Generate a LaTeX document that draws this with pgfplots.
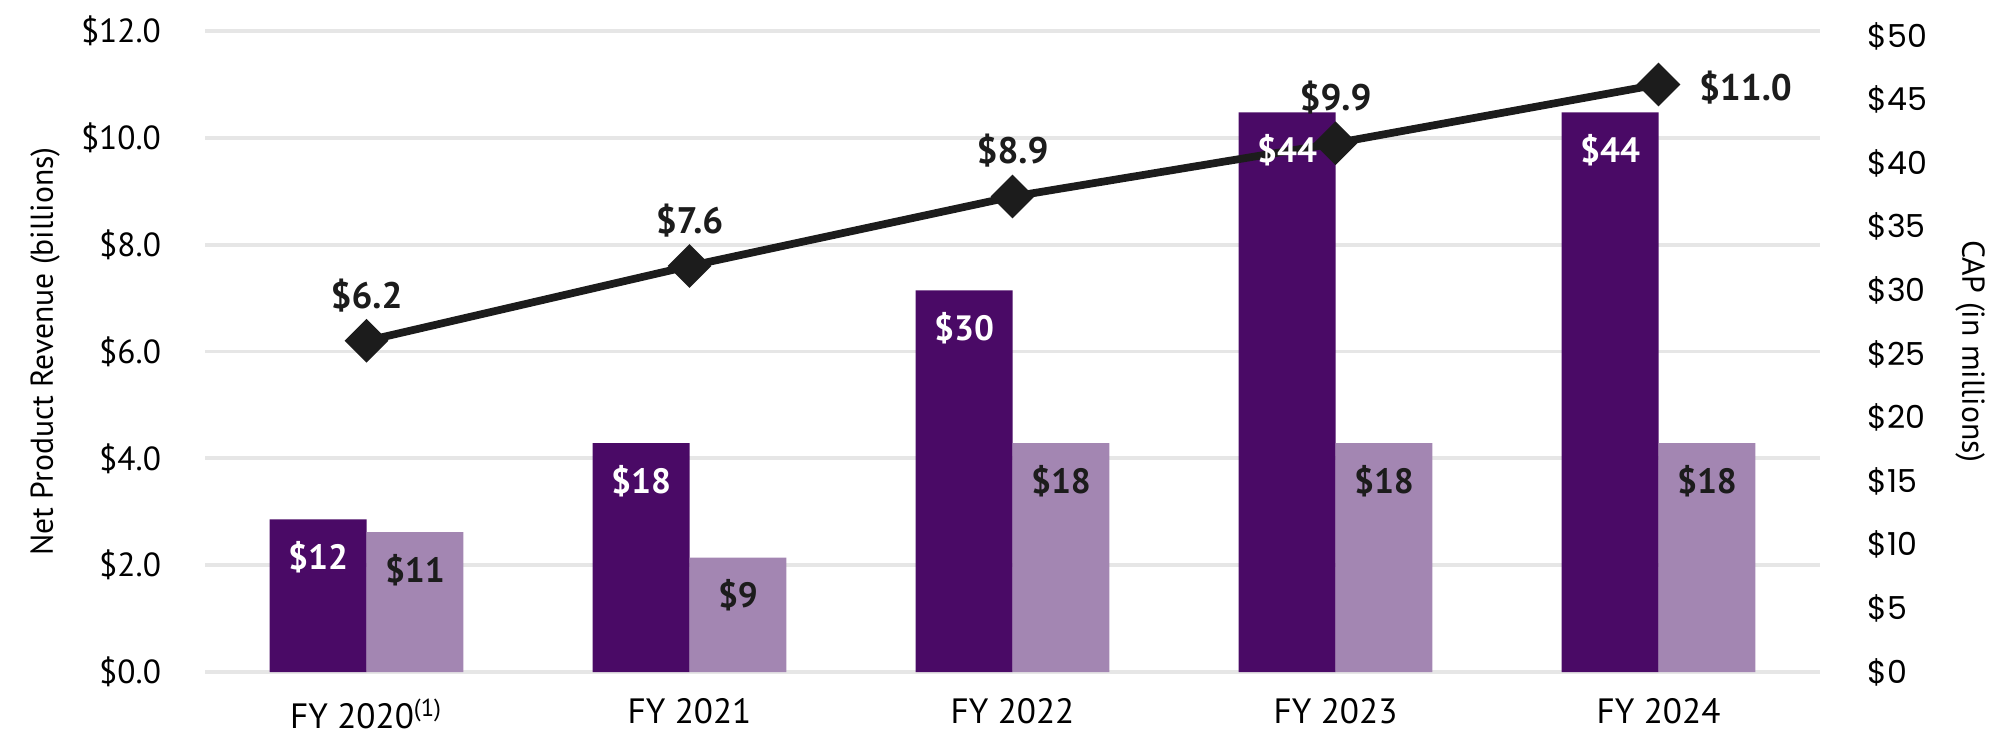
\documentclass[border=0pt]{standalone}
\usepackage{pgfplots}
\pgfplotsset{compat=1.18}
\usepackage{fontspec}
\setmainfont{PT Sans}
\newfontfamily\popp{Poppins}
\definecolor{darkpurple}{HTML}{4A0A66}
\definecolor{lightpurple}{HTML}{A386B2}
\definecolor{gridgray}{HTML}{E6E6E6}
\definecolor{linedark}{HTML}{1C1C1C}

\pgfplotsset{
  base/.style={
    scale only axis, width=16.15cm, height=6.41cm,
    at={(0,0)}, anchor=south west,
    xmin=-0.5, xmax=4.5,
    axis line style={draw=none}, tick style={draw=none},
    /pgf/number format/assume math mode=true,
  },
  capaxis/.style={
    base, ymin=0, ymax=50.4, xtick=\empty,
    ybar, bar width=0.3, clip=false,
  },
  barlabel/.style={
    nodes near coords={\$\pgfmathprintnumber{\pgfplotspointmeta}},
    nodes near coords style={font=\bfseries\fontsize{10}{12}\selectfont,
      anchor=center, yshift=-10.8pt},
  },
}

\begin{document}
\begin{tikzpicture}
  \path[use as bounding box] (-2.05cm,-0.78cm) rectangle (18.05cm,6.72cm);

  % grid, left axis and categories
  \begin{axis}[
      base,
      ymin=0, ymax=12,
      ytick={0,2,...,12},
      ymajorgrids,
      grid style={gridgray, line width=1.1pt},
      yticklabel={\$\pgfmathprintnumber[fixed,fixed zerofill,precision=1]{\tick}},
      yticklabel style={font=\fontsize{9.5}{11}\selectfont, xshift=-9pt},
      xtick={0,1,2,3,4},
      xticklabels={FY 2020\textsuperscript{(1)}, FY 2021, FY 2022, FY 2023, FY 2024},
      xticklabel style={font=\fontsize{10}{12}\selectfont, yshift=-4pt},
      ylabel={Net Product Revenue (billions)},
      ylabel style={at={(axis description cs:-0.099,0.5)}, anchor=center,
        font=\fontsize{9}{11}\selectfont},
    ]
    \addplot[draw=none] coordinates {(0,0)};
  \end{axis}

  % CAP bars on the right axis
  \begin{axis}[
      capaxis,
      ytick={0,5,...,50},
      yticklabel pos=right,
      yticklabel={\popp\$\pgfmathprintnumber{\tick}},
      yticklabel style={font=\fontsize{9}{11}\selectfont, xshift=10pt, anchor=west},
      ylabel={CAP (in millions)},
      ylabel style={at={(axis description cs:1.093,0.5)}, anchor=center, rotate=180,
        font=\fontsize{9}{11}\selectfont},
    ]
    \addplot[fill=darkpurple, draw=none, bar shift=-0.15]
      coordinates {(0,12) (1,18) (2,30) (3,44) (4,44)};
    \addplot[fill=lightpurple, draw=none, bar shift=0.15]
      coordinates {(0,11) (1,9) (2,18) (3,18) (4,18)};
  \end{axis}

  % net product revenue line on the left axis
  \begin{axis}[
      base,
      ymin=0, ymax=12,
      xtick=\empty, ytick=\empty,
      clip=false,
    ]
    \addplot[linedark, line width=2.2pt, mark=square*,
      mark options={rotate=45}, mark size=3.3pt]
      coordinates {(0,6.2) (1,7.6) (2,8.9) (3,9.9) (4,11.0)};
    \addplot[draw=none,
      nodes near coords={\$\pgfmathprintnumber[fixed,fixed zerofill,precision=1]{\pgfplotspointmeta}},
      nodes near coords style={font=\bfseries\fontsize{10.5}{12}\selectfont,
        text=linedark, anchor=center, yshift=13pt},
      point meta=y]
      coordinates {(0,6.2) (1,7.6) (2,8.9) (3,9.9)};
    \addplot[draw=none,
      nodes near coords={\$\pgfmathprintnumber[fixed,fixed zerofill,precision=1]{\pgfplotspointmeta}},
      nodes near coords style={font=\bfseries\fontsize{10.5}{12}\selectfont,
        text=linedark, anchor=west, xshift=8pt, yshift=-1pt},
      point meta=y]
      coordinates {(4,11.0)};
  \end{axis}

  % bar value labels, on top of the line
  \begin{axis}[capaxis, ytick=\empty]
    \addplot[draw=none, fill=none, bar shift=-0.15, barlabel,
      nodes near coords style={text=white}]
      coordinates {(0,12) (1,18) (2,30) (3,44) (4,44)};
    \addplot[draw=none, fill=none, bar shift=0.15, barlabel,
      nodes near coords style={text=linedark}]
      coordinates {(0,11) (1,9) (2,18) (3,18) (4,18)};
  \end{axis}
\end{tikzpicture}
\end{document}
